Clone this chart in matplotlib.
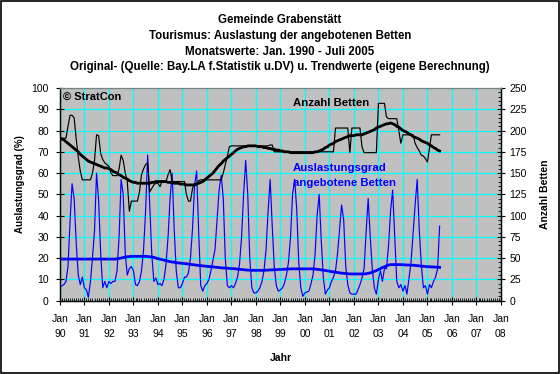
import numpy as np
import pandas as pd
import matplotlib
matplotlib.use('Agg')
import matplotlib.pyplot as plt
import matplotlib.dates as mdates
from matplotlib.ticker import MultipleLocator

plt.rcParams['font.family'] = ['Liberation Sans', 'DejaVu Sans']
plt.rcParams['font.size'] = 7.5

# Monatswerte Jan. 1990 - Juli 2005
months = pd.date_range('1990-01-01', periods=187, freq='MS')

# Auslastungsgrad in %
auslastung = [
    6.4, 7, 7.5, 9, 16, 37, 55, 48, 27, 12, 7.5, 11,      # 1990
    6, 5, 1.5, 9, 20, 33, 60, 47, 22, 6, 9, 6,            # 1991
    9, 8, 9, 9, 14, 30, 57, 50, 22, 12, 15, 16,           # 1992
    14, 7.5, 7, 9, 14, 24, 42, 68.5, 45, 22, 9, 10.6,     # 1993
    7.5, 8, 7, 10, 17, 30, 48, 60, 33, 14, 6, 6,          # 1994
    8, 11, 11, 13, 20, 34, 54, 61, 32, 7, 4.4, 7,         # 1995
    8, 10, 14, 19, 24, 38, 52, 59, 48, 20, 7, 6,          # 1996
    7, 6, 8, 11, 17, 30, 50, 66, 50, 20, 6, 3.6,          # 1997
    3.6, 4.5, 6, 9, 14, 24, 42, 57, 35, 16, 7, 4.4,       # 1998
    5, 6, 8, 12, 18, 30, 50, 57, 43, 18, 6, 2,            # 1999
    3.6, 4, 4.4, 8, 12, 22, 40, 50, 28, 11, 3, 5,         # 2000
    6, 9, 11, 14, 22, 34, 45, 38, 16, 7.5, 3.6, 3,        # 2001
    3, 3, 5, 7.5, 10.6, 15, 32, 48, 30, 15, 6, 3,         # 2002
    10, 14, 9, 15, 15, 26, 42, 52, 30, 9, 6, 7.5,         # 2003
    4.4, 7, 3, 10.6, 18, 32, 45, 57, 33, 17, 6, 7,        # 2004
    3, 7.5, 6, 9, 11, 15, 35,                             # 2005
]

auslastung_trend = [
    19.5, 19.5, 19.5, 19.5, 19.5, 19.5, 19.5, 19.5, 19.5, 19.5, 19.5, 19.5,
    19.5, 19.5, 19.5, 19.5, 19.5, 19.5, 19.5, 19.5, 19.5, 19.5, 19.5, 19.5,
    19.5, 19.5, 19.5, 19.5, 19.6, 19.8, 20.0, 20.2, 20.4, 20.6, 20.7, 20.8,
    20.8, 20.8, 20.8, 20.8, 20.8, 20.8, 20.8, 20.7, 20.6, 20.5, 20.3, 20.0,
    19.7, 19.5, 19.3, 19.0, 18.8, 18.5, 18.3, 18.1, 18.0, 17.8, 17.7, 17.6,
    17.5, 17.4, 17.3, 17.2, 17.0, 16.9, 16.8, 16.6, 16.5, 16.4, 16.3, 16.2,
    16.1, 16.0, 15.9, 15.8, 15.7, 15.6, 15.5, 15.4, 15.3, 15.3, 15.2, 15.1,
    15.0, 15.0, 14.9, 14.8, 14.7, 14.6, 14.5, 14.4, 14.3, 14.3, 14.2, 14.2,
    14.2, 14.2, 14.2, 14.2, 14.2, 14.3, 14.3, 14.4, 14.4, 14.5, 14.5, 14.6,
    14.6, 14.7, 14.7, 14.8, 14.8, 14.9, 14.9, 14.9, 14.9, 14.9, 14.9, 14.9,
    14.9, 14.9, 14.9, 14.9, 14.9, 14.8, 14.7, 14.6, 14.4, 14.3, 14.1, 14.0,
    13.8, 13.6, 13.5, 13.3, 13.2, 13.0, 12.9, 12.8, 12.7, 12.6, 12.5, 12.5,
    12.5, 12.5, 12.5, 12.5, 12.5, 12.5, 12.6, 12.8, 13.0, 13.3, 13.7, 14.1,
    14.6, 15.1, 15.5, 15.9, 16.3, 16.7, 16.9, 16.9, 16.9, 16.9, 16.9, 16.9,
    16.8, 16.8, 16.7, 16.7, 16.6, 16.6, 16.5, 16.4, 16.3, 16.2, 16.1, 16.0,
    15.9, 15.9, 15.8, 15.8, 15.7, 15.7, 15.6,
]

# Anzahl angebotene Betten
betten = [
    191, 191, 191, 191, 205, 218, 218, 215, 190, 169, 152, 142,
    142, 142, 142, 142, 150, 165, 195, 194, 173, 166, 162, 160,
    158, 150, 147, 147, 147, 155, 171, 165, 150, 140, 105, 117,
    117, 117, 117, 128, 148, 155, 160, 162, 128, 132, 136, 138,
    138, 134, 140, 140, 140, 148, 154, 140, 140, 140, 140, 140,
    140, 140, 125, 117, 117, 132, 138, 136, 141, 142, 142, 142,
    142, 142, 142, 142, 142, 142, 142, 142, 150, 160, 170, 181,
    182, 182, 182, 182, 182, 182, 182, 182, 182, 182, 182, 182,
    182, 182, 182, 182, 182, 182, 182, 183, 183, 175, 175, 175,
    175, 175, 175, 175, 175, 175, 175, 175, 175, 175, 175, 175,
    175, 175, 175, 175, 175, 175, 175, 175, 175, 175, 175, 175,
    175, 175, 175, 203, 203, 203, 203, 203, 203, 203, 174, 203,
    203, 203, 203, 203, 181, 174, 174, 174, 174, 174, 174, 174,
    232, 232, 232, 232, 216, 214, 214, 214, 214, 214, 200, 185,
    195, 195, 195, 195, 195, 195, 185, 180, 176, 171, 170, 167,
    163, 180, 195, 195, 195, 195, 195,
]

betten_trend = [
    191, 190, 189, 187, 185, 183, 181, 179, 177, 175, 172, 170,
    168, 166, 164, 163, 162, 161, 160, 159, 158, 157, 156, 156,
    155, 154, 152, 151, 150, 148, 147, 145, 144, 143, 141, 140,
    139, 139, 138, 138, 138, 138, 138, 138, 138, 139, 139, 140,
    140, 140, 140, 140, 140, 139, 139, 139, 138, 138, 138, 137,
    137, 137, 136, 136, 136, 136, 136, 137, 138, 139, 140, 142,
    144, 146, 148, 150, 153, 156, 159, 161, 164, 166, 168, 170,
    172, 174, 176, 178, 179, 180, 181, 181, 182, 182, 182, 182,
    182, 181, 181, 181, 180, 180, 179, 179, 178, 178, 177, 177,
    176, 176, 175, 175, 175, 174, 174, 174, 174, 174, 174, 174,
    174, 174, 174, 174, 174, 175, 175, 176, 177, 178, 180, 181,
    183, 184, 185, 187, 188, 189, 190, 191, 192, 193, 194, 194,
    194, 195, 195, 195, 195, 196, 197, 198, 199, 200, 201, 203,
    204, 205, 206, 207, 208, 208, 209, 208, 207, 205, 204, 202,
    200, 199, 198, 196, 195, 193, 192, 191, 190, 188, 187, 186,
    185, 183, 182, 180, 179, 177, 176,
]

title_lines = [
    'Gemeinde Grabenstätt',
    'Tourismus: Auslastung der angebotenen Betten',
    'Monatswerte: Jan. 1990 - Juli 2005',
    'Original- (Quelle: Bay.LA f.Statistik u.DV) u. Trendwerte (eigene Berechnung)',
]

blue = '#0000ff'

fig = plt.figure(figsize=(5.6, 3.74), dpi=100)
fig.patch.set_facecolor('white')
fig.patches.append(plt.Rectangle((0.001, 0.002), 0.997, 0.996, transform=fig.transFigure,
                                 fill=False, edgecolor='black', lw=1.2))

ax = fig.add_axes([0.107, 0.1965, 0.7875, 0.568])
ax.set_facecolor('#c0c0c0')
ax2 = ax.twinx()

# left axis: Auslastungsgrad
ax.plot(months, auslastung, color=blue, lw=0.85, zorder=3)
ax.plot(months, auslastung_trend, color=blue, lw=2.0, zorder=4)

# right axis: Betten
ax2.plot(months, betten, color='black', lw=0.85)
ax2.plot(months, betten_trend, color='black', lw=2.0)

ax.set_xlim(pd.Timestamp('1990-01-01'), pd.Timestamp('2008-01-01'))
ax.set_ylim(0, 100)
ax2.set_ylim(0, 250)

ax.xaxis.set_major_locator(mdates.YearLocator(1, month=1, day=1))
ax.xaxis.set_major_formatter(mdates.DateFormatter('Jan\n%y'))
ax.xaxis.set_minor_locator(mdates.MonthLocator())
ax.set_yticks(np.arange(0, 101, 10))
ax2.set_yticks(np.arange(0, 251, 25))
ax2.yaxis.set_minor_locator(MultipleLocator(5))

ax.grid(True, color='#00ffff', lw=0.9)
ax.set_axisbelow(True)

ax.tick_params(axis='x', which='major', direction='inout', length=6, width=0.8, pad=7)
ax.tick_params(axis='x', which='minor', direction='in', length=2, width=0.6)
ax.tick_params(axis='y', which='major', direction='inout', length=6, width=0.8, pad=5)
ax2.tick_params(axis='y', which='major', direction='inout', length=6, width=0.8, pad=3)
ax2.tick_params(axis='y', which='minor', direction='in', length=2, width=0.6)
for lbl in ax.get_xticklabels():
    lbl.set_linespacing(1.6)

for a in (ax, ax2):
    a.spines['top'].set_color('#808080')
    a.spines['left'].set_linewidth(0.9)
    a.spines['right'].set_linewidth(0.9)
    a.spines['bottom'].set_linewidth(0.9)

ax.set_ylabel('Auslastungsgrad (%)', fontweight='bold', fontsize=7)
ax.yaxis.set_label_coords(-0.079, 0.55)
ax2.set_ylabel('Anzahl Betten', fontweight='bold')
ax2.yaxis.set_label_coords(1.088, 0.5)
ax.set_xlabel('Jahr', fontweight='bold')
ax.xaxis.set_label_coords(0.5, -0.245)

ax.text(0.006, 0.958, '© StratCon', transform=ax.transAxes, fontweight='bold',
        va='center', fontsize=8)
ax.text(0.528, 0.929, 'Anzahl Betten', transform=ax.transAxes, fontweight='bold',
        va='center', fontsize=8.2)
ax.text(0.528, 0.624, 'Auslastungsgrad', transform=ax.transAxes, fontweight='bold',
        va='center', color=blue, fontsize=8.2)
ax.text(0.528, 0.553, 'angebotene Betten', transform=ax.transAxes, fontweight='bold',
        va='center', color=blue, fontsize=8.2)

for line, y in zip(title_lines, [20, 36, 52, 67]):
    fig.text(0.5, 1 - y / 374, line, ha='center', va='center', fontweight='bold', fontsize=8.3)

fig.savefig('out.png', dpi=100)
